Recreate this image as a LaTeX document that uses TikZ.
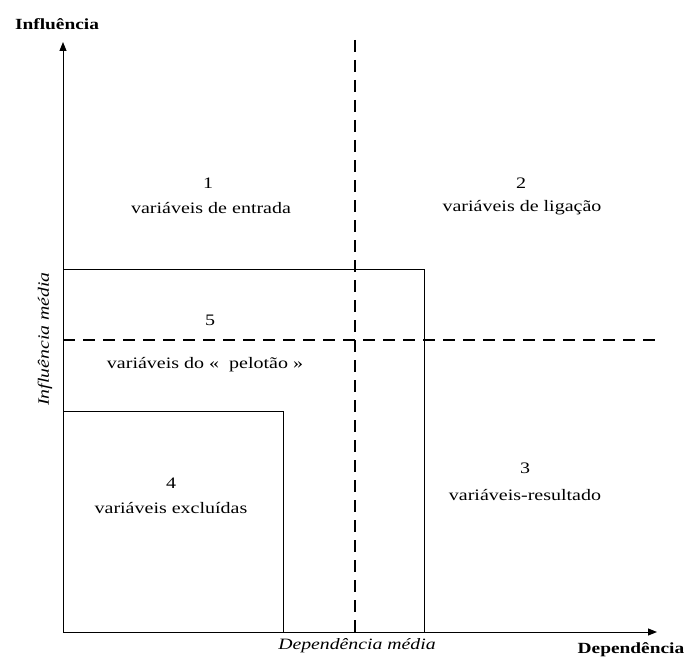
\documentclass[tikz,border=0pt]{standalone}
\usepackage{fontspec}
\setmainfont[FakeStretch=1.25]{Liberation Serif}
\usetikzlibrary{arrows.meta}
\begin{document}
\begin{tikzpicture}[x=1pt,y=-1pt,
  axis/.style={line width=1pt,-{Triangle[length=9pt,width=7pt]}},
  box/.style={line width=0.9pt},
  dsh/.style={line width=1.6pt,dash pattern=on 12pt off 8pt},
  lbl/.style={font=\fontsize{16}{18}\selectfont,inner sep=0pt},
  ax/.style={font=\bfseries\fontsize{15.5}{17}\selectfont,inner sep=0pt},
  med/.style={font=\itshape\fontsize{15.8}{17}\selectfont,inner sep=0pt}]
\useasboundingbox (0,0) rectangle (693,658);
\coordinate (O) at (63,632);
\coordinate (Ytip) at (63,42);
\coordinate (Xtip) at (657,632);
\draw[axis] (O) -- (Ytip);
\draw[axis] (O) -- (Xtip);
\node[ax] (yl) at (57,24) {Influência};
\node[ax] (xl) at (631,650) {Dependência};
% rectangles
\coordinate (r5) at (424,269);
\coordinate (r4) at (283,411);
\draw[box] (63,269) -- (r5) -- (424,632);
\draw[box] (63,411) -- (r4) -- (283,632);
% dashed lines
\coordinate (vt) at (355,40);
\coordinate (vb) at (355,632);
\coordinate (hl) at (63,340);
\coordinate (hr) at (656,340);
\draw[dsh] (vt) -- (vb);
\draw[dsh] (hl) -- (hr);
\node[med] (dm) at (357,646) {Dependência média};
\node[med,rotate=90] (im) at (45,339) {Influência média};
% quadrant labels
\node[lbl] (n1) at (208,183) {1};
\node[lbl] (t1) at (211,208) {variáveis de entrada};
\node[lbl] (n2) at (521,183) {2};
\node[lbl] (t2) at (522,208) {variáveis de ligação};
\node[lbl] (n5) at (210,320) {5};
\node[lbl] (t5) at (205,365) {variáveis do «\ \ pelotão »};
\node[lbl] (n3) at (525,468) {3};
\node[lbl] (t3) at (525,495) {variáveis-resultado};
\node[lbl] (n4) at (171,483) {4};
\node[lbl] (t4) at (171,508) {variáveis excluídas};
\end{tikzpicture}
\end{document}
